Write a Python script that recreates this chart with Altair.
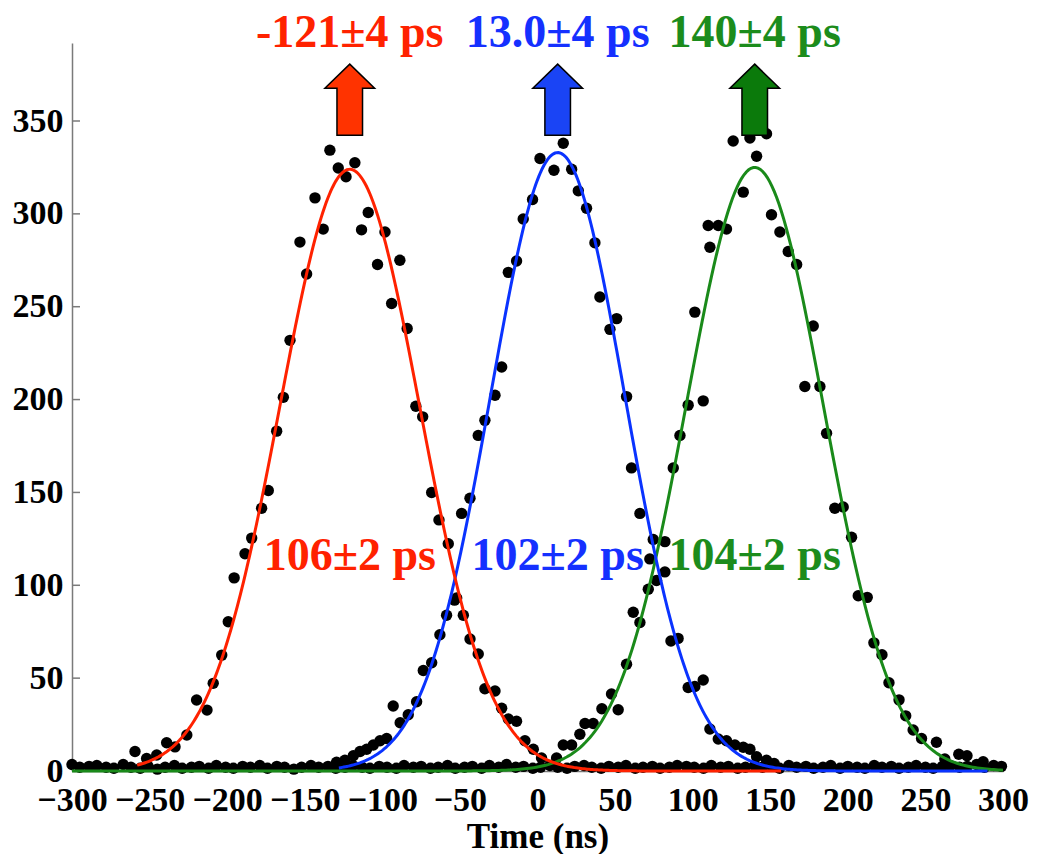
import altair as alt
import numpy as np
import pandas as pd

# ---- measured histograms: time (ns) and counts, one list pair per peak ----
red_t = [-259.4, -251.9, -245.4, -239.0, -233.6, -226.0, -219.7, -213.0, -209.0, -203.5,
         -199.3, -195.5, -188.5, -184.2, -177.8, -173.5, -168.1, -163.8, -159.5, -153.1,
         -148.8, -143.4, -138.1, -133.8, -128.4, -123.4, -117.7, -113.4, -109.1, -103.1,
         -98.3, -94.0, -88.7, -84.0, -78.4, -74.0, -68.2, -63.5, -57.5, -52.1,
         -47.8, -43.5, -38.2, -33.9, -27.4, -23.1, -18.8, -13.5, -8.1, -2.7, 2.6]
red_n = [10.5, 6.7, 8.6, 15.2, 13.0, 19.4, 38.2, 32.8, 47.2, 62.4,
         80.4, 104.0, 117.0, 125.4, 141.5, 151.0, 183.0, 201.2, 231.9, 284.8,
         267.6, 308.6, 291.8, 334.3, 324.7, 320.0, 327.5, 291.4, 300.7, 272.7,
         290.2, 251.7, 275.0, 238.3, 196.4, 190.7, 150.0, 135.2, 122.4, 93.2,
         83.9, 71.1, 63.0, 44.3, 43.1, 33.8, 28.0, 26.8, 16.3, 11.7, 7.0]

blue_t = [-129.5, -124.1, -118.7, -114.4, -110.1, -105.8, -101.5, -97.2, -93.0, -88.5,
          -83.3, -77.9, -73.6, -68.2, -62.9, -58.6, -53.5, -48.9, -43.5, -38.2,
          -33.9, -27.4, -23.1, -18.8, -13.5, -9.2, -3.2, 1.6, 10.6, 16.6,
          22.0, 26.3, 31.6, 37.0, 40.2, 46.7, 51.0, 57.4, 60.6, 66.0,
          72.4, 74.6, 82.1, 86.0, 90.6, 97.1, 101.4, 106.8, 111.1, 116.5,
          121.8, 127.2, 132.6, 136.9, 141.2, 147.6, 152.5]
blue_n = [4.7, 5.8, 8.2, 10.5, 11.7, 14.0, 16.3, 17.5, 35.0, 26.0,
          30.3, 37.3, 54.1, 58.3, 73.4, 83.9, 92.0, 138.7, 146.9, 180.7,
          188.8, 202.3, 217.5, 268.5, 274.6, 297.2, 307.7, 329.8, 323.5, 338.0,
          324.0, 312.4, 303.0, 284.4, 255.2, 237.8, 243.6, 201.6, 163.2, 138.7,
          114.2, 124.7, 107.2, 70.0, 71.4, 45.0, 45.5, 49.0, 22.6, 17.2,
          16.3, 14.0, 12.8, 11.7, 7.7, 5.8, 4.0]

green_t = [12.3, 16.6, 22.0, 27.3, 30.6, 35.9, 41.5, 47.7, 52.0, 57.4,
           61.7, 66.0, 71.4, 76.7, 82.1, 87.5, 91.8, 97.1, 101.4, 106.8,
           110.0, 111.1, 116.5, 121.8, 126.1, 132.6, 136.9, 141.2, 147.6, 150.8,
           156.2, 161.6, 167.0, 172.3, 177.7, 182.0, 186.3, 191.6, 197.0, 202.4,
           206.7, 212.5, 216.8, 222.0, 226.5, 233.0, 237.3, 242.1, 247.5, 257.1,
           262.5, 271.5, 276.8, 287.2]
green_n = [7.0, 14.0, 14.0, 19.8, 25.6, 25.6, 33.5, 41.5, 33.0, 57.5,
           85.5, 80.0, 97.9, 102.6, 123.5, 163.2, 180.7, 197.0, 247.1, 199.3,
           293.7, 282.0, 293.7, 291.8, 339.2, 311.7, 340.8, 331.0, 343.1, 299.5,
           290.2, 279.7, 272.7, 207.0, 239.6, 207.0, 181.8, 141.5, 142.2, 125.9,
           94.4, 93.5, 69.0, 62.6, 47.5, 38.3, 29.7, 22.1, 17.5, 15.5,
           6.5, 9.0, 8.2, 5.0]

# near-zero bins shared by all three records
base_t = [-300, -295, -289, -284, -278, -273, -267, -262, -256, -251, -245, -240, -234, -229,
          -223, -218, -212, -207, -201, -196, -190, -185, -179, -174, -168, -163, -157, -152,
          -146, -141, -135, -130, -124, -119, -113, -108, -102, -97, -91, -86, -80, -75,
          -69, -64, -58, -53, -47, -42, -36, -31, -25, -20, -14, -9, -3, 2, 8, 13,
          19, 24, 30, 35, 41, 46, 52, 57, 63, 68, 74, 79, 85, 90, 96, 101,
          107, 112, 118, 123, 129, 134, 140, 145, 151, 156, 162, 167, 173, 178,
          184, 189, 195, 200, 206, 211, 217, 222, 228, 233, 239, 244, 250, 255,
          261, 266, 272, 277, 283, 288, 294, 299]
base_n = [3.5, 2.0, 2.5, 3.0, 2.0, 1.5, 3.5, 2.0, 1.5, 2.5, 1.0, 2.0, 3.0, 1.5,
          2.0, 2.5, 1.5, 3.0, 2.0, 1.5, 2.5, 2.0, 3.0, 1.5, 2.5, 2.0, 1.0, 2.0,
          3.0, 2.0, 2.5, 1.5, 2.0, 3.0, 2.0, 1.5, 2.5, 2.0, 1.5, 3.0, 2.0, 2.5,
          1.5, 2.0, 3.0, 1.5, 2.0, 2.5, 1.5, 3.0, 2.0, 3.5, 2.0, 2.5, 1.5, 2.0, 3.0, 2.0,
          1.5, 2.5, 3.0, 2.0, 1.5, 2.5, 2.0, 3.0, 1.5, 2.0, 2.5, 1.5, 2.0, 3.0, 2.5, 2.0,
          1.5, 3.0, 2.0, 2.5, 1.5, 2.0, 3.0, 2.0, 2.5, 1.5, 3.0, 2.0, 2.5, 1.5,
          2.0, 3.0, 1.5, 2.5, 2.0, 1.5, 3.0, 2.0, 2.5, 1.5, 2.0, 3.0, 2.0, 1.5,
          2.5, 3.0, 2.0, 2.5, 3.5, 2.0, 3.0, 2.5]

# ---- Gaussian fit parameters ----
fit_key = ["red", "blue", "green"]
fit_centre = [-121.0, 13.0, 140.0]
fit_fwhm = [106.0, 102.0, 104.0]
fit_amp = [324.0, 333.0, 325.0]
fit_from = [-258.0, -128.0, -300.0]
fit_to = [157.0, 290.0, 300.0]

centre_labels = ["-121\u00b14 ps", "13.0\u00b14 ps", "140\u00b14 ps"]
width_labels = ["106\u00b12 ps", "102\u00b12 ps", "104\u00b12 ps"]

line_color = {"red": "#FF2200", "blue": "#0A33FF", "green": "#1A8A1A"}
text_color = {"red": "#FF2200", "blue": "#1530FF", "green": "#1C8C1C"}
arrow_color = {"red": "#FF3300", "blue": "#1A44F5", "green": "#0B7A0B"}

FONT = "Liberation Serif"
X_DOM = [-300, 300]
Y_DOM = [0, 392]

xs = alt.Scale(domain=X_DOM, nice=False, zero=False)
ys = alt.Scale(domain=Y_DOM, nice=False)

points = pd.DataFrame({
    "t": red_t + blue_t + green_t + base_t,
    "n": red_n + blue_n + green_n + base_n,
})

fit_frames = {}
for k, c, w, a, lo, hi in zip(fit_key, fit_centre, fit_fwhm, fit_amp, fit_from, fit_to):
    sigma = w / (2.0 * np.sqrt(2.0 * np.log(2.0)))
    t = np.linspace(lo, hi, 400)
    fit_frames[k] = pd.DataFrame({"t": t, "n": a * np.exp(-0.5 * ((t - c) / sigma) ** 2)})

labels = pd.DataFrame({
    "t": fit_centre,
    "top": centre_labels,
    "width": width_labels,
    "tcol": [text_color[k] for k in fit_key],
    "acol": [arrow_color[k] for k in fit_key],
})

x_axis = alt.Axis(
    values=list(range(-300, 301, 50)), title="Time (ns)", grid=False,
    labelFont=FONT, labelFontWeight="bold", labelFontSize=34, labelColor="black",
    labelPadding=12, labelFlush=False, tickSize=0,
    domainColor="#7a7a7a", domainWidth=1.5,
    titleFont=FONT, titleFontWeight="bold", titleFontSize=35, titleColor="black",
    titlePadding=2,
)
y_axis = alt.Axis(
    values=list(range(0, 351, 50)), title=None, grid=False,
    labelFont=FONT, labelFontWeight="bold", labelFontSize=34, labelColor="black",
    labelPadding=9, tickSize=0, domainColor="#7a7a7a", domainWidth=1.5,
)

base = alt.Chart(points).mark_circle(size=130, color="black", opacity=1).encode(
    x=alt.X("t:Q", scale=xs, axis=x_axis),
    y=alt.Y("n:Q", scale=ys, axis=y_axis),
)

# inward tick marks on the count axis
yt = pd.DataFrame({"v": list(range(0, 351, 50))})
ytick = alt.Chart(yt).mark_rule(color="#7a7a7a", strokeWidth=1.5).encode(
    y=alt.Y("v:Q", scale=ys), x=alt.value(0), x2=alt.value(8))

def fit_line(k):
    return alt.Chart(fit_frames[k]).mark_line(color=line_color[k], strokeWidth=3).encode(
        x=alt.X("t:Q", scale=xs), y=alt.Y("n:Q", scale=ys))

arrow_path = "M0,-1L0.7,-0.32L0.36,-0.32L0.36,1L-0.36,1L-0.36,-0.32L-0.7,-0.32Z"
arrows = alt.Chart(labels).mark_point(
    shape=arrow_path, size=5041, filled=True, stroke="black", strokeWidth=1.5, opacity=1
).encode(
    x=alt.X("t:Q", scale=xs),
    y=alt.Y("yy:Q", scale=ys),
    fill=alt.Color("acol:N", scale=None),
).transform_calculate(yy="361.5")

top_text = alt.Chart(labels).mark_text(
    font=FONT, fontWeight="bold", fontSize=46, baseline="alphabetic", align="center"
).encode(
    x=alt.X("t:Q", scale=xs), y=alt.Y("yy:Q", scale=ys),
    text="top:N", color=alt.Color("tcol:N", scale=None),
).transform_calculate(yy="390")

width_text = alt.Chart(labels).mark_text(
    font=FONT, fontWeight="bold", fontSize=46, baseline="alphabetic", align="center"
).encode(
    x=alt.X("t:Q", scale=xs), y=alt.Y("yy:Q", scale=ys),
    text="width:N", color=alt.Color("tcol:N", scale=None),
).transform_calculate(yy="108")

chart = alt.layer(
    base, ytick, fit_line("green"), fit_line("blue"), fit_line("red"),
    arrows, top_text, width_text,
).properties(
    width=931, height=728,
    autosize=alt.AutoSizeParams(type="none"),
    padding={"left": 72, "top": 43, "right": 34, "bottom": 83},
).configure(background="white").configure_view(stroke=None, strokeWidth=0)

chart.save("out.html", embed_options={"renderer": "svg", "actions": False})
